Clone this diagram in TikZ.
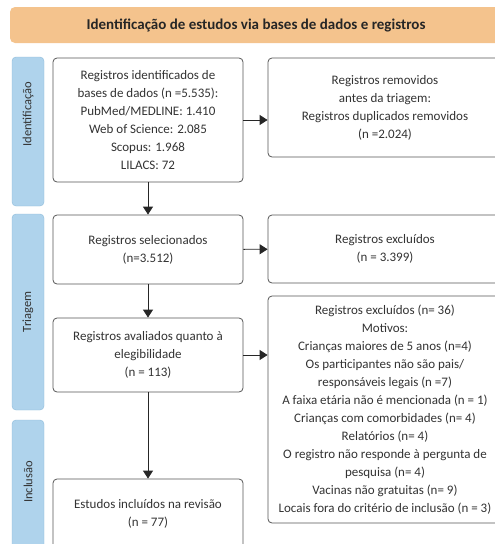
\documentclass[tikz,border=0pt]{standalone}
\usepackage{fontspec}
\setmainfont{Carlito}
\usetikzlibrary{arrows.meta, positioning}
\definecolor{laranja}{HTML}{F4C38D}
\definecolor{azulclaro}{HTML}{AFD3EC}
\definecolor{azulborda}{HTML}{8EBBDA}
\definecolor{cinza}{HTML}{555555}
\definecolor{texto}{HTML}{333333}
\tikzset{
  every picture/.style={x=1pt, y=-1pt},
  titulo/.style={fill=laranja, rounded corners=5pt, minimum width=492pt, minimum height=36pt,
                 font=\fontsize{15}{17}\selectfont\bfseries, text=black!85},
  fase/.style={draw=azulborda, fill=azulclaro, rounded corners=4pt, minimum width=32pt, inner sep=0pt},
  rotulo/.style={rotate=90, inner sep=0pt, font=\fontsize{12.5}{14}\selectfont, text=texto},
  caixa/.style={draw=cinza, line width=0.8pt, fill=white, rounded corners=4pt, align=center,
                text=texto, font=\fontsize{13}{18}\selectfont, inner sep=2pt},
  esq/.style={caixa, minimum width=190pt},
  dir/.style={caixa, minimum width=234pt},
  flecha/.style={-{Triangle[length=8pt, width=10pt]}, line width=0.9pt, black!85},
}
\begin{document}
\begin{tikzpicture}
  \useasboundingbox (0,0) rectangle (495,544);
  \clip (0,0) rectangle (495,544);
  % cabecalho
  \node[titulo] (topo) at (256,25) {Identificação de estudos via bases de dados e registros};
  % fases
  \node[fase, minimum height=149pt] (fid) at (28,131.5) {};
  \node[fase, minimum height=196pt] (ftr) at (28,312) {};
  \node[fase, minimum height=128pt] (fin) at (28,484) {};
  \node[rotulo] (lid) at (28,114) {Identificação};
  \node[rotulo] (ltr) at (28,312) {Triagem};
  \node[rotulo] (lin) at (28,482) {Inclusão};
  % coluna esquerda
  \node[esq, minimum height=124pt] (ident) at (148,120) {Registros identificados de\\bases de dados (n =5.535):\\PubMed/MEDLINE: 1.410\\Web of Science: 2.085\\Scopus: 1.968\\LILACS: 72};
  \node[esq, minimum height=69pt] (selec) at (148,249.5) {Registros selecionados\\(n=3.512)};
  \node[esq, minimum height=74pt] (aval) at (148,355) {Registros avaliados quanto à\\elegibilidade\\(n = 113)};
  \node[esq, minimum height=70pt] (incl) at (148,514) {Estudos incluídos na revisão\\(n = 77)};
  % coluna direita
  \node[dir, minimum height=99pt] (remov) at (385,107.5) {Registros removidos\\antes da triagem:\\Registros duplicados removidos\\(n =2.024)};
  \node[dir, minimum height=68pt] (exc) at (385,249) {Registros excluídos\\(n = 3.399)};
  \node[dir, minimum height=227pt] (excm) at (385,409.5) {Registros excluídos (n= 36)\\Motivos:\\Crianças maiores de 5 anos (n=4)\\Os participantes não são pais/\\responsáveis legais (n =7)\\A faixa etária não é mencionada (n = 1)\\Crianças com comorbidades (n= 4)\\Relatórios (n= 4)\\O registro não responde à pergunta de\\pesquisa (n= 4)\\Vacinas não gratuitas (n= 9)\\Locais fora do critério de inclusão (n = 3)};
  % setas
  \draw[flecha] (ident) -- (selec);
  \draw[flecha] (selec) -- (aval);
  \draw[flecha] (aval) -- (incl);
  \draw[flecha] (ident.east) -- (ident.east -| remov.west);
  \draw[flecha] (selec) -- (exc);
  \draw[flecha] (aval.east) -- (aval.east -| excm.west);
\end{tikzpicture}
\end{document}
